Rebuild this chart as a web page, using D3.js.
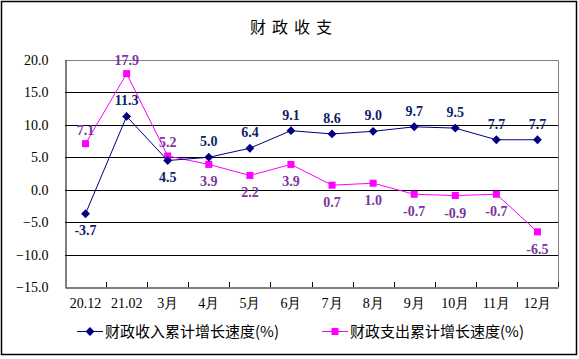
<!DOCTYPE html>
<html><head><meta charset="utf-8">
<script src="https://cdn.jsdelivr.net/npm/d3@7"></script>
<style>body{margin:0;background:#fff}svg{display:block}</style>
</head><body>
<svg id="c" width="579" height="359"></svg>
<script>
const categories = ["20.12","21.02","3月","4月","5月","6月","7月","8月","9月","10月","11月","12月"];
const revenue = [-3.7, 11.3, 4.5, 5.0, 6.4, 9.1, 8.6, 9.0, 9.7, 9.5, 7.7, 7.7];
const expenditure = [7.1, 17.9, 5.2, 3.9, 2.2, 3.9, 0.7, 1.0, -0.7, -0.9, -0.7, -6.5];
const revLabelPos = ["below","above","below","above","above","above","above","above","above","above","above","above"];
const expLabelPos = ["above","above","above","below","below","below","below","below","below","below","below","below"];
const yTicks = [20, 15, 10, 5, 0, -5, -10, -15];
const seriesNames = ["财政收入累计增长速度(%)", "财政支出累计增长速度(%)"];

const svg = d3.select("#c");
const L = 65, R = 558, T = 60, B = 287;
const serif = "'Liberation Serif','Times New Roman',serif";
const cjk = "'Noto Sans CJK SC','Noto Sans',sans-serif";

svg.append("rect").attr("x",1.5).attr("y",1.5).attr("width",575).attr("height",353)
  .attr("fill","#fff").attr("stroke","#000").attr("stroke-width",1.5);

svg.append("text").attr("x",294).attr("y",33).attr("text-anchor","middle")
  .attr("font-family",cjk).attr("font-size",16).attr("letter-spacing",6).attr("fill","#000").text("财政收支");

const x = d3.scaleBand().domain(categories).range([L,R]).padding(0);
const y = d3.scaleLinear().domain([-15,20]).range([B,T]);

// grid
svg.append("g").selectAll("line").data(yTicks.filter(v=>v>-15 && v<20)).join("line")
  .attr("x1",L).attr("x2",R).attr("y1",d=>Math.round(y(d))+0.5).attr("y2",d=>Math.round(y(d))+0.5)
  .attr("stroke","#000").attr("stroke-width",1);
svg.append("path").attr("d",`M${L},${T+0.5}H${R+0.5}V${B}`).attr("fill","none").attr("stroke","#808080").attr("stroke-width",1);

// y axis
const ya = svg.append("g").attr("transform",`translate(${L+0.5},0)`)
  .call(d3.axisLeft(y).tickValues(yTicks).tickFormat(d3.format(".1f")).tickSize(0).tickPadding(17));
ya.select(".domain").attr("stroke","#000");
ya.selectAll("text").attr("font-family",serif).attr("font-size",14).attr("fill","#000");

// x axis
const xa = svg.append("g").attr("transform",`translate(0,${B+0.5})`)
  .call(d3.axisBottom(x).tickSize(0).tickPadding(11));
xa.select(".domain").attr("stroke","#000");
xa.selectAll("text").attr("font-family",serif).attr("font-size",14).attr("fill","#000");
svg.append("g").selectAll("line").data(categories.slice(1)).join("line")
  .attr("x1",d=>Math.round(x(d))+0.5).attr("x2",d=>Math.round(x(d))+0.5)
  .attr("y1",B).attr("y2",B-5).attr("stroke","#000");
svg.append("line").attr("x1",R+0.5).attr("x2",R+0.5).attr("y1",B).attr("y2",B-5).attr("stroke","#000");

const cx = d => x(d) + x.bandwidth()/2;
const line = d3.line().x((d,i)=>cx(categories[i])).y(d=>y(d));

// expenditure
svg.append("path").datum(expenditure).attr("d",line).attr("fill","none").attr("stroke","#FF00FF").attr("stroke-width",1);
svg.append("g").selectAll("rect").data(expenditure).join("rect")
  .attr("x",(d,i)=>cx(categories[i])-3.5).attr("y",d=>y(d)-3.5).attr("width",7).attr("height",7).attr("fill","#FF00FF");
// revenue
svg.append("path").datum(revenue).attr("d",line).attr("fill","none").attr("stroke","#000080").attr("stroke-width",1);
const diamond = d3.symbol().type(d3.symbolDiamond2).size(50);
svg.append("g").selectAll("path").data(revenue).join("path")
  .attr("d",diamond).attr("transform",(d,i)=>`translate(${cx(categories[i])},${y(d)})`).attr("fill","#000080");

// labels
svg.append("g").selectAll("text").data(expenditure).join("text")
  .attr("x",(d,i)=>cx(categories[i])).attr("y",(d,i)=>y(d)+(expLabelPos[i]==="above"?-9:22))
  .attr("text-anchor","middle").attr("font-family",serif).attr("font-size",14).attr("font-weight","bold")
  .attr("fill","#7B35A0").text(d=>d.toFixed(1));
svg.append("g").selectAll("text").data(revenue).join("text")
  .attr("x",(d,i)=>cx(categories[i])).attr("y",(d,i)=>y(d)+(revLabelPos[i]==="above"?-11:21))
  .attr("text-anchor","middle").attr("font-family",serif).attr("font-size",14).attr("font-weight","bold")
  .attr("fill","#0F1F66").text(d=>d.toFixed(1));

// legend
const lg = svg.append("g");
lg.append("line").attr("x1",77).attr("x2",103).attr("y1",331.5).attr("y2",331.5).attr("stroke","#000080");
lg.append("path").attr("d",diamond).attr("transform","translate(90,331.5)").attr("fill","#000080");
lg.append("text").attr("x",105).attr("y",337).attr("font-family",cjk).attr("font-size",15).attr("fill","#000").text(seriesNames[0]);
lg.append("line").attr("x1",322).attr("x2",348).attr("y1",331.5).attr("y2",331.5).attr("stroke","#FF00FF");
lg.append("rect").attr("x",331.5).attr("y",328).attr("width",7).attr("height",7).attr("fill","#FF00FF");
lg.append("text").attr("x",350).attr("y",337).attr("font-family",cjk).attr("font-size",15).attr("fill","#000").text(seriesNames[1]);
</script>
</body></html>
